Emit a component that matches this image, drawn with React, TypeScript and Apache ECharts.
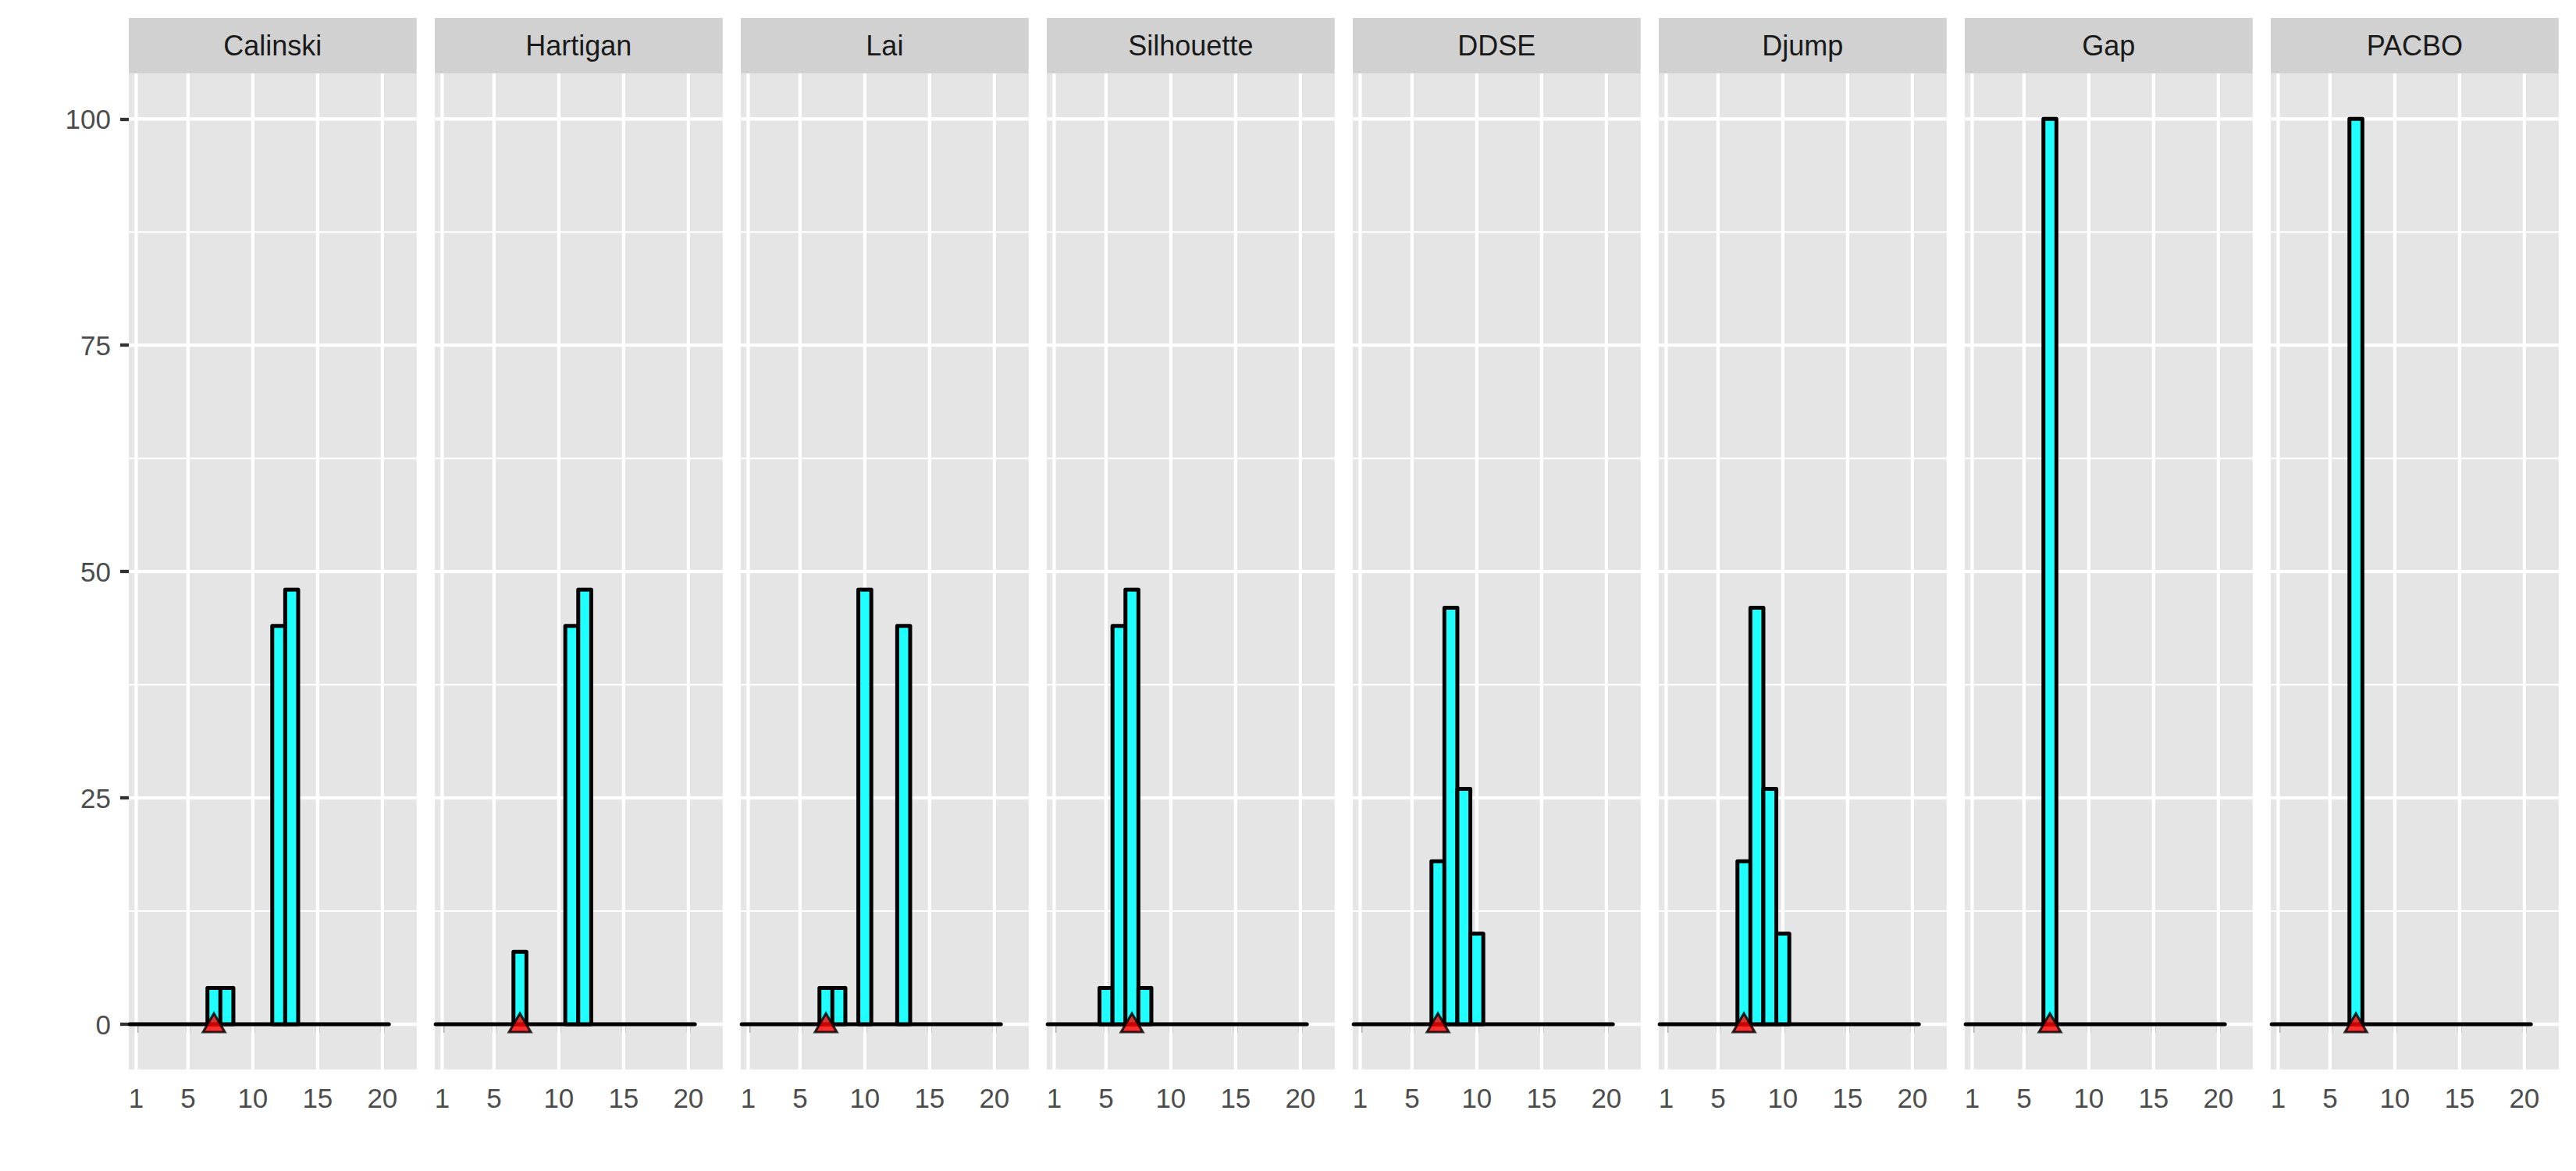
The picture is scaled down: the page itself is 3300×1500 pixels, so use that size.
import React, { useEffect, useRef } from "react";
import * as echarts from "echarts";

// ---- data ----
const methods = ["Calinski", "Hartigan", "Lai", "Silhouette", "DDSE", "Djump", "Gap", "PACBO"];
const calinskiK = [7, 8, 12, 13];
const calinskiPct = [4, 4, 44, 48];
const hartiganK = [7, 11, 12];
const hartiganPct = [8, 44, 48];
const laiK = [7, 8, 10, 13];
const laiPct = [4, 4, 48, 44];
const silhouetteK = [5, 6, 7, 8];
const silhouettePct = [4, 44, 48, 4];
const ddseK = [7, 8, 9, 10];
const ddsePct = [18, 46, 26, 10];
const djumpK = [7, 8, 9, 10];
const djumpPct = [18, 46, 26, 10];
const gapK = [7];
const gapPct = [100];
const pacboK = [7];
const pacboPct = [100];
const selectedK = [7, 7, 7, 7, 7, 7, 7, 7];
const binRange = [0.5, 20.5];
const xTicks = [1, 5, 10, 15, 20];
const yTicks = [0, 25, 50, 75, 100];
const yMinorTicks = [12.5, 37.5, 62.5, 87.5];
const xLimits = [0.43, 22.64];
const yLimits = [-5, 105];

const kLists = [calinskiK, hartiganK, laiK, silhouetteK, ddseK, djumpK, gapK, pacboK];
const pctLists = [calinskiPct, hartiganPct, laiPct, silhouettePct, ddsePct, djumpPct, gapPct, pacboPct];

// ---- layout ----
const W = 3300;
const H = 1500;
const PANEL_LEFT = 165;
const PANEL_W = 368.7;
const PANEL_STEP = 392;
const PANEL_TOP = 94.3;
const PANEL_BOTTOM = 1370;
const STRIP_TOP = 23;
const FONT = "Liberation Sans";

export default function App() {
  const ref = useRef<HTMLDivElement>(null);
  useEffect(() => {
    document.body.style.margin = "0";
    const chart = echarts.init(ref.current!, null, { renderer: "svg" });
    const grids: any[] = [];
    const xAxes: any[] = [];
    const yAxes: any[] = [];
    const series: any[] = [];
    const graphics: any[] = [];

    methods.forEach((m, i) => {
      const left = PANEL_LEFT + i * PANEL_STEP;
      grids.push({
        left,
        top: PANEL_TOP,
        width: PANEL_W,
        height: PANEL_BOTTOM - PANEL_TOP,
        show: true,
        backgroundColor: "#E5E5E5",
        borderWidth: 0,
        outerBoundsMode: "none",
        containLabel: false,
      });
      xAxes.push({
        type: "value",
        gridIndex: i,
        min: xLimits[0],
        max: xLimits[1],
        axisLine: { show: false },
        splitLine: { show: false },
        axisTick: {
          show: true,
          customValues: xTicks,
          length: 11,
          lineStyle: { color: "#333333", width: 4.3 },
        },
        axisLabel: {
          show: true,
          customValues: xTicks,
          margin: 19,
          color: "#4D4D4D",
          fontSize: 35,
          fontFamily: FONT,
        },
      });
      yAxes.push({
        type: "value",
        gridIndex: i,
        min: yLimits[0],
        max: yLimits[1],
        axisLine: { show: false },
        splitLine: { show: false },
        axisTick: {
          show: i === 0,
          customValues: yTicks,
          length: 11,
          lineStyle: { color: "#333333", width: 4.3 },
        },
        axisLabel: {
          show: i === 0,
          customValues: yTicks,
          margin: 23,
          color: "#4D4D4D",
          fontSize: 35,
          fontFamily: FONT,
        },
      });

      // gridlines
      const gridData: any[] = [];
      xTicks.forEach((v) => gridData.push([v, 0, 0]));
      yTicks.forEach((v) => gridData.push([1, v, 1]));
      yMinorTicks.forEach((v) => gridData.push([1, v, 2]));
      series.push({
        type: "custom",
        xAxisIndex: i,
        yAxisIndex: i,
        z: 1,
        silent: true,
        data: gridData,
        renderItem: (params: any, api: any) => {
          const kind = api.value(2);
          if (kind === 0) {
            const v = api.value(0);
            const a = api.coord([v, yLimits[1]]);
            const b = api.coord([v, yLimits[0]]);
            return {
              type: "line",
              shape: { x1: a[0], y1: a[1], x2: b[0], y2: b[1] },
              style: { stroke: "#FFFFFF", lineWidth: 4.3 },
            };
          }
          const v = api.value(1);
          const a = api.coord([xLimits[0], v]);
          const b = api.coord([xLimits[1], v]);
          return {
            type: "line",
            shape: { x1: a[0], y1: a[1], x2: b[0], y2: b[1] },
            style: { stroke: "#FFFFFF", lineWidth: kind === 1 ? 4.3 : 2.1 },
          };
        },
      });

      // zero-height bins outline
      series.push({
        type: "line",
        xAxisIndex: i,
        yAxisIndex: i,
        z: 2,
        silent: true,
        symbol: "none",
        data: [
          [binRange[0], 0],
          [binRange[1], 0],
        ],
        lineStyle: { color: "#000000", width: 5, cap: "round" },
      });

      // histogram bars
      series.push({
        type: "custom",
        xAxisIndex: i,
        yAxisIndex: i,
        z: 3,
        silent: true,
        data: kLists[i].map((k, j) => [k, pctLists[i][j]]),
        renderItem: (params: any, api: any) => {
          const x = api.value(0);
          const y = api.value(1);
          const p0 = api.coord([x - 0.5, y]);
          const p1 = api.coord([x + 0.5, 0]);
          return {
            type: "rect",
            shape: { x: p0[0], y: p0[1], width: p1[0] - p0[0], height: p1[1] - p0[1] },
            style: { fill: "#1FFFFF", stroke: "#000000", lineWidth: 5, lineJoin: "round" },
          };
        },
      });

      // selected k marker
      series.push({
        type: "scatter",
        xAxisIndex: i,
        yAxisIndex: i,
        z: 5,
        silent: true,
        symbol: "triangle",
        symbolSize: [28, 24],
        symbolOffset: [0, -2],
        data: [[selectedK[i], 0]],
        itemStyle: { color: "#FF0000", borderColor: "#000000", borderWidth: 3 },
      });

      // strip
      graphics.push({
        type: "rect",
        shape: { x: left, y: STRIP_TOP, width: PANEL_W, height: PANEL_TOP - STRIP_TOP },
        style: { fill: "#D1D1D1" },
        silent: true,
      });
      graphics.push({
        type: "text",
        x: left + PANEL_W / 2,
        y: (STRIP_TOP + PANEL_TOP) / 2,
        style: {
          text: m,
          fill: "#1A1A1A",
          fontSize: 36,
          fontFamily: FONT,
          align: "center",
          verticalAlign: "middle",
        },
        silent: true,
      });
    });

    chart.setOption({
      animation: false,
      backgroundColor: "#FFFFFF",
      grid: grids,
      xAxis: xAxes,
      yAxis: yAxes,
      series,
      graphic: graphics,
    });
    return () => chart.dispose();
  }, []);
  return <div ref={ref} style={{ width: W, height: H }} />;
}
